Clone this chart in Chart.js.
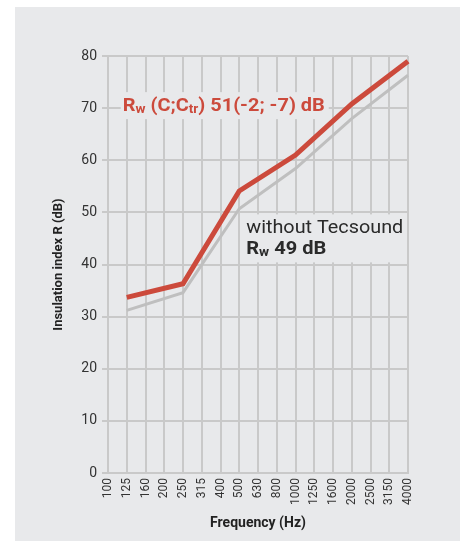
<!DOCTYPE html>
<html>
<head>
<meta charset="utf-8">
<script src="https://cdn.jsdelivr.net/npm/chart.js@4/dist/chart.umd.min.js"></script>
<style>
  html, body { margin: 0; padding: 0; background: #fff; }
  canvas { display: block; }
</style>
</head>
<body>
<canvas id="insulationChart" width="464" height="544"></canvas>
<script>
// third-octave bands (Hz)
const frequencies = ["100", "125", "160", "200", "250", "315", "400", "500", "630", "800",
  "1000", "1250", "1600", "2000", "2500", "3150", "4000"];
// null where no point is drawn (line joins across)
const withTecsound = [null, 33.7, null, null, 36.3, null, null, 54.1, null, null,
  61.0, null, null, 70.8, null, null, 79.0];
const withoutTecsound = [null, 31.2, null, null, 34.6, null, null, 50.7, null, null,
  58.4, null, null, 68.0, null, null, 76.3];
const yTicks = { min: 0, max: 80, step: 10 };

const PANEL = "#e8e9eb";
const GRID = "#c9c9c9";
const RED = "#cc4a3c";
const GREY = "#bfbfbf";
const FONT = "Roboto, 'Liberation Sans', sans-serif";
const NARROW = "'Liberation Sans Narrow', Roboto, sans-serif";

// draws text runs (for subscripts), squeezed to a width if given
function drawRuns(ctx, runs, x, baseline, width, color) {
  let total = 0;
  runs.forEach((r) => { ctx.font = r.font; total += ctx.measureText(r.text).width; });
  const k = width ? width / total : 1;
  ctx.save();
  ctx.fillStyle = color;
  ctx.textBaseline = "alphabetic";
  ctx.textAlign = "left";
  ctx.translate(x, baseline);
  ctx.scale(k, 1);
  let cx = 0;
  runs.forEach((r) => {
    ctx.font = r.font;
    ctx.fillText(r.text, cx, r.dy || 0);
    cx += ctx.measureText(r.text).width;
  });
  ctx.restore();
}

const panelPlugin = {
  id: "panel",
  beforeDraw(chart) {
    const ctx = chart.ctx;
    ctx.save();
    ctx.fillStyle = "#fff";
    ctx.fillRect(0, 0, chart.width, chart.height);
    ctx.fillStyle = PANEL;
    ctx.fillRect(15, 7, 445, 534);
    ctx.restore();
  },
};

const labelsPlugin = {
  id: "labels",
  beforeDatasetsDraw(chart) {
    const ctx = chart.ctx;
    const xs = chart.scales.x;
    const ys = chart.scales.y;
    const x125 = xs.getPixelForValue(1);
    const x500 = xs.getPixelForValue(7);
    const y70 = ys.getPixelForValue(70);
    const y50 = ys.getPixelForValue(50);

    ctx.save();
    ctx.fillStyle = PANEL;
    ctx.fillRect(x125 - 6, y70 - 16, 208, 27);
    ctx.fillRect(x500 + 2, y50 + 2, 165, 48);
    ctx.restore();

    const b19 = "bold 19px " + NARROW;
    const b12 = "bold 13px " + NARROW;
    drawRuns(ctx, [
      { text: "R", font: b19 },
      { text: "w", font: b12, dy: 2 },
      { text: " (C;C", font: b19 },
      { text: "tr", font: b12, dy: 2 },
      { text: ") 51(-2; -7) dB", font: b19 },
    ], x125 - 4, y70 + 3, 202, RED);

    drawRuns(ctx, [{ text: "without Tecsound", font: "19px " + FONT }],
      x500 + 7, y50 + 21, 157, "#2a2a2a");
    drawRuns(ctx, [
      { text: "R", font: "bold 19px " + FONT },
      { text: "w", font: "bold 13px " + FONT, dy: 2 },
      { text: " 49 dB", font: "bold 19px " + FONT },
    ], x500 + 7, y50 + 42, 80, "#2a2a2a");
  },
};

new Chart(document.getElementById("insulationChart"), {
  type: "line",
  data: {
    labels: frequencies,
    datasets: [
      {
        label: "with Tecsound",
        data: withTecsound,
        borderColor: RED,
        borderWidth: 5,
        pointRadius: 0,
        tension: 0,
        spanGaps: true,
        borderCapStyle: "butt",
        borderJoinStyle: "miter",
      },
      {
        label: "without Tecsound",
        data: withoutTecsound,
        borderColor: GREY,
        borderWidth: 3,
        pointRadius: 0,
        tension: 0,
        spanGaps: true,
        borderCapStyle: "butt",
        borderJoinStyle: "miter",
      },
    ],
  },
  options: {
    responsive: false,
    animation: false,
    devicePixelRatio: 1,
    layout: { padding: { top: 56, right: 56, bottom: 0, left: 0 } },
    plugins: { legend: { display: false }, tooltip: { enabled: false } },
    scales: {
      x: {
        offset: false,
        grid: { color: GRID, lineWidth: 2, drawTicks: false },
        border: { color: GRID, width: 2 },
        ticks: {
          autoSkip: false,
          minRotation: 90,
          maxRotation: 90,
          padding: 5,
          color: "#333",
          font: { family: FONT, size: 12 },
        },
        title: {
          display: true,
          text: "Frequency (Hz)",
          color: "#222",
          font: { family: FONT, size: 14, weight: "bold" },
          padding: { top: 0, bottom: 12 },
        },
        afterFit: (scale) => { scale.height = 71; },
      },
      y: {
        min: yTicks.min,
        max: yTicks.max,
        grid: { color: GRID, lineWidth: 2, tickLength: 6 },
        border: { color: GRID, width: 2 },
        ticks: {
          stepSize: yTicks.step,
          padding: 5,
          color: "#333",
          font: { family: FONT, size: 14 },
        },
        title: {
          display: true,
          text: "Insulation index R (dB)",
          color: "#222",
          font: { family: FONT, size: 13, weight: "bold" },
          padding: { top: 51, bottom: 0 },
        },
        afterFit: (scale) => { scale.width = 108; },
      },
    },
  },
  plugins: [panelPlugin, labelsPlugin],
});
</script>
</body>
</html>
